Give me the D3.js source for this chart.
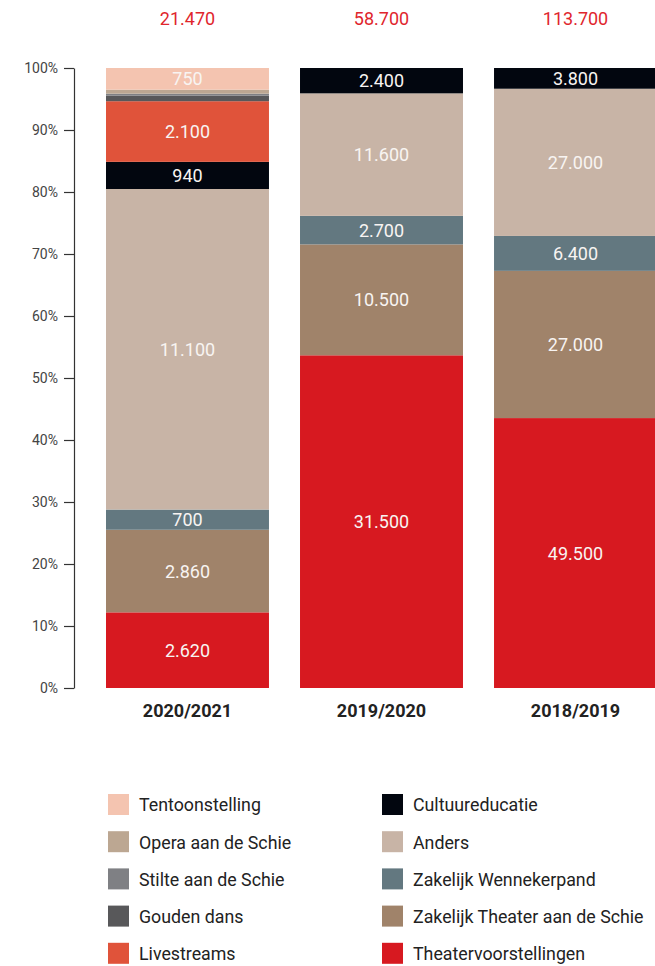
<!DOCTYPE html>
<head>
  <meta charset="utf-8">
  <title>Bezoekers per seizoen</title>
  <style>
    body {
      margin: 0;
      padding: 0;
      background-color: #fff;
    }
    .axis text {
      font-family: Roboto, sans-serif;
      font-size: 14px;
      fill: #444;
    }
    .axis path, .axis line {
      stroke: #333;
      stroke-width: 1.2;
    }
    .total {
      font-family: Roboto, sans-serif;
      font-size: 18px;
      fill: #e0262d;
    }
    .seg-label {
      font-family: Roboto, sans-serif;
      font-size: 18px;
      fill: #f8f4f2;
    }
    .cat-label {
      font-family: Roboto, sans-serif;
      font-size: 18px;
      font-weight: 700;
      fill: #222;
    }
    .legend text {
      font-family: Roboto, sans-serif;
      font-size: 19px;
      fill: #222;
    }
  </style>
</head>
<body>
  <div id="vis"></div>

  <script src="https://cdn.jsdelivr.net/npm/d3@7"></script>
  <script>
    var width = 655,
        height = 966;

    // seizoenen
    var years = ['2020/2021', '2019/2020', '2018/2019'];

    // bezoekers per categorie (zelfde volgorde als years)
    var theatervoorstellingen = [2620, 31500, 49500];
    var zakelijkTheater = [2860, 10500, 27000];
    var zakelijkWennekerpand = [700, 2700, 6400];
    var anders = [11100, 11600, 27000];
    var cultuureducatie = [940, 2400, 3800];
    var livestreams = [2100, 0, 0];
    var goudenDans = [190, 0, 0];
    var stilte = [70, 0, 0];
    var opera = [140, 0, 0];
    var tentoonstelling = [750, 0, 0];

    // stapelvolgorde van onder naar boven
    var seriesNames = [
      'Theatervoorstellingen', 'Zakelijk Theater aan de Schie', 'Zakelijk Wennekerpand',
      'Anders', 'Cultuureducatie', 'Livestreams', 'Gouden dans',
      'Stilte aan de Schie', 'Opera aan de Schie', 'Tentoonstelling'
    ];
    var seriesValues = [
      theatervoorstellingen, zakelijkTheater, zakelijkWennekerpand,
      anders, cultuureducatie, livestreams, goudenDans,
      stilte, opera, tentoonstelling
    ];
    var seriesColors = [
      '#d71920', '#a0836a', '#637880',
      '#c8b4a6', '#02060f', '#e0533a', '#58585a',
      '#7f8084', '#bca792', '#f4c4b0'
    ];

    var yTicks = [0, 0.1, 0.2, 0.3, 0.4, 0.5, 0.6, 0.7, 0.8, 0.9, 1];

    var nl = d3.formatLocale({decimal: ',', thousands: '.', grouping: [3], currency: ['€', '']});
    var fmt = nl.format(',d');

    var rows = years.map(function(y, i) {
      var row = {year: y, total: 0};
      seriesNames.forEach(function(s, j) {
        row[s] = seriesValues[j][i];
        row.total += seriesValues[j][i];
      });
      return row;
    });

    var x = d3.scaleBand()
        .domain(years)
        .range([106, 657])
        .paddingInner(0.16)
        .paddingOuter(0);

    var y = d3.scaleLinear()
        .domain([0, 1])
        .range([688, 68]);

    var color = d3.scaleOrdinal().domain(seriesNames).range(seriesColors);

    var stack = d3.stack()
        .keys(seriesNames)
        .offset(d3.stackOffsetExpand);
    var layers = stack(rows);

    var svg = d3.select('#vis').append('svg')
        .attr('width', width)
        .attr('height', height);

    // totalen bovenaan
    svg.append('g').selectAll('text')
      .data(rows)
      .enter().append('text')
        .attr('class', 'total')
        .attr('text-anchor', 'middle')
        .attr('x', function(d) { return x(d.year) + x.bandwidth() / 2; })
        .attr('y', 25)
        .text(function(d) { return fmt(d.total); });

    // y-as
    svg.append('g')
        .attr('class', 'axis')
        .attr('transform', 'translate(74,0)')
        .call(d3.axisLeft(y)
          .tickValues(yTicks)
          .tickFormat(d3.format('.0%'))
          .tickSize(10)
          .tickSizeOuter(0)
          .tickPadding(6));

    var layer = svg.append('g').selectAll('g')
      .data(layers)
      .enter().append('g')
        .attr('fill', function(d) { return color(d.key); });

    layer.selectAll('rect')
      .data(function(d) { return d; })
      .enter().append('rect')
        .attr('x', function(d) { return x(d.data.year); })
        .attr('width', x.bandwidth())
        .attr('y', function(d) { return y(d[1]); })
        .attr('height', function(d) { return y(d[0]) - y(d[1]); });

    // waarden in de segmenten
    var labels = [];
    layers.forEach(function(l) {
      l.forEach(function(p) {
        var h = y(p[0]) - y(p[1]);
        if (h > 15) labels.push({x: x(p.data.year) + x.bandwidth() / 2, y: (y(p[0]) + y(p[1])) / 2, v: p.data[l.key]});
      });
    });

    svg.append('g').selectAll('text')
      .data(labels)
      .enter().append('text')
        .attr('class', 'seg-label')
        .attr('text-anchor', 'middle')
        .attr('x', function(d) { return d.x; })
        .attr('y', function(d) { return d.y; })
        .attr('dy', '0.36em')
        .text(function(d) { return fmt(d.v); });

    // seizoen onder de staaf
    svg.append('g').selectAll('text')
      .data(years)
      .enter().append('text')
        .attr('class', 'cat-label')
        .attr('text-anchor', 'middle')
        .attr('x', function(d) { return x(d) + x.bandwidth() / 2; })
        .attr('y', 717)
        .text(function(d) { return d; });

    // legenda, bovenste categorie eerst
    var legendNames = seriesNames.slice().reverse();
    var legend = svg.append('g')
        .attr('class', 'legend')
      .selectAll('g')
      .data(legendNames)
      .enter().append('g')
        .attr('transform', function(d, i) {
          var col = Math.floor(i / 5), row = i % 5;
          return 'translate(' + [col ? 382 : 108, 794 + row * 37.2] + ')';
        });

    legend.append('rect')
        .attr('width', 21)
        .attr('height', 21)
        .attr('fill', function(d) { return color(d); });

    var legendText = legend.append('text')
        .attr('y', 10.5)
        .attr('dy', '0.36em')
        .text(function(d) { return d; });

    // smal lettertype nabootsen: horizontaal samendrukken
    var w0 = legendText.filter(function(d) { return d == 'Tentoonstelling'; }).node().getComputedTextLength();
    var sx = 122 / w0;
    legendText.attr('transform', 'translate(31,0) scale(' + sx + ',1)');
  </script>
</body>
